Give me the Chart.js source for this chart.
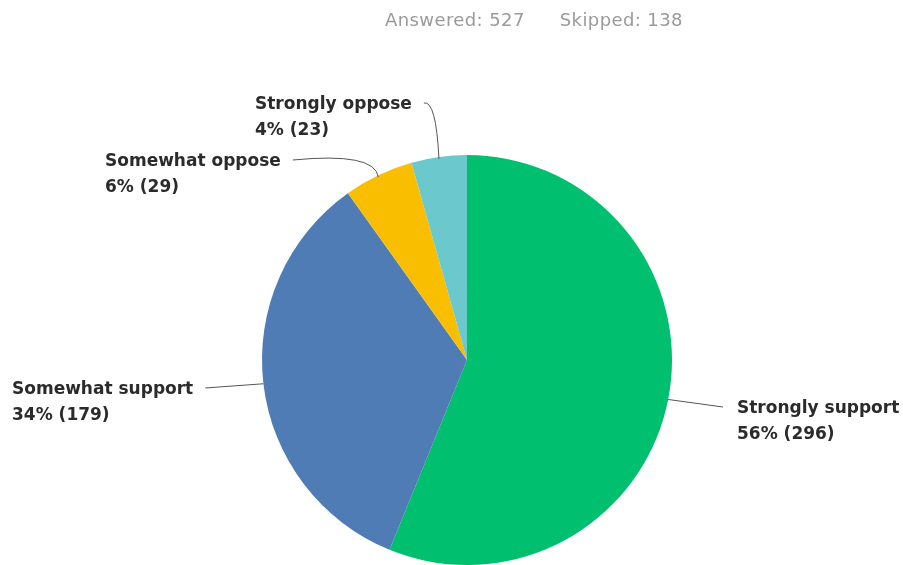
<!DOCTYPE html>
<html>
<head>
<meta charset="utf-8">
<script src="https://cdn.jsdelivr.net/npm/chart.js@4"></script>
<style>
  html, body { margin: 0; padding: 0; background: #fff; }
  #wrap { position: relative; width: 903px; height: 565px; }
  #stats { position: absolute; top: 9px; left: 385px; font: 18px "DejaVu Sans", sans-serif; letter-spacing: 0.4px; color: #9a9a9a; white-space: nowrap; }
  #stats span + span { margin-left: 35px; }
</style>
</head>
<body>
<div id="wrap">
  <div id="stats"><span>Answered: 527</span><span>Skipped: 138</span></div>
  <canvas id="pieChart" width="903" height="565"></canvas>
</div>
<script>
// Survey answers
const categories = ['Strongly support', 'Somewhat support', 'Somewhat oppose', 'Strongly oppose'];
const counts = [296, 179, 29, 23];
const percents = ['56%', '34%', '6%', '4%'];
const colors = ['#00bf6f', '#507cb6', '#f9be00', '#6bc8cd'];

// label placement (text left x, first baseline y, which side the leader leaves from)
const labelLayout = [
    { x: 737, y: 413, side: 'left' },
    { x: 12, y: 394, side: 'right' },
    { x: 105, y: 166, side: 'right', ctrl: [375, 152] },
    { x: 255, y: 109, side: 'right', ctrl: [436, 100] }
];

const leaderLabels = {
    id: 'leaderLabels',
    afterDatasetsDraw(chart) {
        const ctx = chart.ctx;
        const arcs = chart.getDatasetMeta(0).data;
        ctx.save();
        ctx.font = 'bold 17px "DejaVu Sans", sans-serif';
        ctx.textBaseline = 'alphabetic';
        arcs.forEach((arc, i) => {
            const p = arc.getProps(['x', 'y', 'startAngle', 'endAngle', 'outerRadius'], true);
            const mid = (p.startAngle + p.endAngle) / 2;
            const ex = p.x + Math.cos(mid) * p.outerRadius;
            const ey = p.y + Math.sin(mid) * p.outerRadius;
            const lay = labelLayout[i];
            const line1 = categories[i];
            const line2 = percents[i] + ' (' + counts[i] + ')';

            ctx.fillStyle = '#2b2b2b';
            ctx.fillText(line1, lay.x, lay.y);
            ctx.fillText(line2, lay.x, lay.y + 26);

            let sx, sy;
            if (lay.side === 'right') {
                sx = lay.x + ctx.measureText(line1).width + 12;
                sy = lay.y - 6;
            } else {
                sx = lay.x - 14;
                sy = lay.y - 6;
            }
            ctx.strokeStyle = '#555';
            ctx.lineWidth = 1;
            ctx.beginPath();
            ctx.moveTo(sx, sy);
            if (lay.ctrl) {
                ctx.quadraticCurveTo(lay.ctrl[0], lay.ctrl[1], ex, ey + 2);
            } else {
                ctx.lineTo(ex, ey);
            }
            ctx.stroke();
        });
        ctx.restore();
    }
};

const pieCtx = document.getElementById('pieChart').getContext('2d');
const pieChart = new Chart(pieCtx, {
    type: 'pie',
    data: {
        labels: categories,
        datasets: [{
            data: counts,
            backgroundColor: colors,
            borderWidth: 0
        }]
    },
    options: {
        responsive: false,
        animation: false,
        layout: {
            padding: { top: 155, bottom: 0, left: 262, right: 231 }
        },
        plugins: {
            legend: { display: false },
            tooltip: { enabled: false }
        }
    },
    plugins: [leaderLabels]
});
</script>
</body>
</html>
